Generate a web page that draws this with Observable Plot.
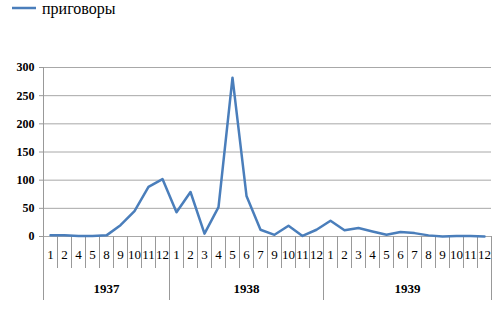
<!DOCTYPE html>
<html><head><meta charset="utf-8">
<script src="https://cdn.jsdelivr.net/npm/d3@7"></script>
<script src="https://cdn.jsdelivr.net/npm/@observablehq/plot@0.6"></script>
<style>
body{margin:0;background:#fff;font-family:"Liberation Serif",serif;}
#legend{height:20px;}
#legend svg{display:block;}
#chart svg{display:block;font-family:"Liberation Serif",serif !important;}
#chart svg text{font-family:"Liberation Serif",serif !important;}
</style></head><body>
<div id="legend"></div>
<div id="chart"></div>
<script>
const seriesName = "приговоры";
const years = ["1937", "1938", "1939"];
const months1937 = [1, 2, 4, 5, 8, 9, 10, 11, 12];
const months1938 = [1, 2, 3, 4, 5, 6, 7, 9, 10, 11, 12];
const months1939 = [1, 2, 3, 4, 5, 6, 7, 8, 9, 10, 11, 12];
const values1937 = [2, 2, 1, 1, 2, 20, 45, 88, 102];
const values1938 = [43, 79, 5, 52, 282, 72, 12, 3, 19, 1, 12];
const values1939 = [28, 11, 15, 9, 3, 8, 6, 2, 0, 1, 1, 0];
const yTicks = [0, 50, 100, 150, 200, 250, 300];

const lineColor = "#4a7ebb";
const font = "'Liberation Serif', serif";

const monthsByYear = [months1937, months1938, months1939];
const valuesByYear = [values1937, values1938, values1939];
const rows = [];
const groups = [];
monthsByYear.forEach((ms, g) => {
  const start = rows.length;
  ms.forEach((m, k) => rows.push({i: rows.length, year: years[g], month: String(m), value: valuesByYear[g][k]}));
  groups.push({year: years[g], start, end: rows.length - 1, center: (start + rows.length - 1) / 2});
});
const n = rows.length;
const monthBounds = rows.slice(1).map(d => d.i - 0.5);
const yearBounds = groups.map(g => g.start - 0.5).concat([n - 0.5]);

// legend
const lg = d3.select("#legend").append("svg").attr("width", 500).attr("height", 20);
lg.append("line").attr("x1", 12).attr("x2", 36).attr("y1", 8).attr("y2", 8)
  .attr("stroke", lineColor).attr("stroke-width", 2.5);
lg.append("text").attr("x", 42).attr("y", 14).attr("font-size", 16)
  .attr("font-family", font).text(seriesName);

const chart = Plot.plot({
  width: 500,
  height: 300,
  marginLeft: 43,
  marginRight: 9,
  marginTop: 47,
  marginBottom: 84,
  style: {fontFamily: font, background: "#fff"},
  x: {domain: [-0.5, n - 0.5], axis: null},
  y: {domain: [0, 300], axis: null},
  marks: [
    Plot.ruleY(yTicks, {stroke: "#a8a8a8", strokeWidth: 1}),
    Plot.axisY(yTicks, {label: null, tickSize: 4, tickPadding: 5, fontWeight: "bold", fontSize: 12, fontFamily: font, stroke: "#999", fill: "#000"}),
    Plot.ruleX([-0.5], {y1: 0, y2: 300, stroke: "#999"}),
    Plot.ruleX(monthBounds, {y1: 0, y2: 0, insetBottom: -32, stroke: "#999"}),
    Plot.ruleX(yearBounds, {y1: 0, y2: 0, insetBottom: -64, stroke: "#999"}),
    Plot.text(rows, {x: "i", text: "month", frameAnchor: "bottom", dy: 22, fontSize: 13, fontFamily: font, fill: "#000"}),
    Plot.text(groups, {x: "center", text: "year", frameAnchor: "bottom", dy: 56, fontSize: 13, fontFamily: font, fontWeight: "bold", fill: "#000"}),
    Plot.line(rows, {x: "i", y: "value", stroke: lineColor, strokeWidth: 2.5, strokeLinejoin: "round"})
  ]
});
document.getElementById("chart").append(chart);
</script>
</body></html>
